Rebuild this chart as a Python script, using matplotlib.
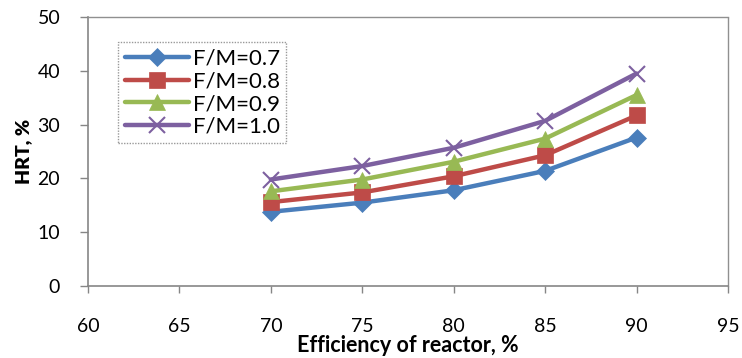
import numpy as np
import matplotlib
matplotlib.use('Agg')
import matplotlib.pyplot as plt

efficiency = [70, 75, 80, 85, 90]
hrt_07 = [13.8, 15.5, 17.8, 21.4, 27.6]
hrt_08 = [15.6, 17.4, 20.4, 24.3, 31.7]
hrt_09 = [17.6, 19.8, 23.1, 27.4, 35.5]
hrt_10 = [19.8, 22.3, 25.7, 30.7, 39.5]
labels = ['F/M=0.7', 'F/M=0.8', 'F/M=0.9', 'F/M=1.0']

plt.rcParams['font.family'] = ['Lato', 'DejaVu Sans']

fig = plt.figure(figsize=(7.42, 3.58), dpi=100)
ax = fig.add_axes([0.1186, 0.201, 0.8625, 0.7515])

series = [hrt_07, hrt_08, hrt_09, hrt_10]
colors = ['#4A7EBB', '#BE4B48', '#98B954', '#7D60A0']
markers = ['D', 's', '^', 'x']
msizes = [9, 11, 11, 12]
for vals, lab, col, mk, ms in zip(series, labels, colors, markers, msizes):
    ax.plot(efficiency, vals, color=col, lw=3.2, marker=mk, ms=ms,
            mew=1.5 if mk == 'x' else 0.5, mec=col, label=lab,
            solid_capstyle='round')

ax.set_xlim(60, 95)
ax.set_ylim(0, 50)
ax.set_xticks(np.arange(60, 96, 5))
ax.set_yticks(np.arange(0, 51, 10))
ax.tick_params(labelsize=14, color='#868686', width=1)
ax.tick_params(axis='x', length=5, pad=18)
ax.tick_params(axis='y', length=6, pad=14)
for s in ['left', 'bottom']:
    ax.spines[s].set_color('#868686')
    ax.spines[s].set_linewidth(1.2)
for s in ['top', 'right']:
    ax.spines[s].set_color('#909090')
    ax.spines[s].set_linestyle((0, (1, 1)))
    ax.spines[s].set_linewidth(1)

ax.set_xlabel('Efficiency of reactor, %', fontsize=15.5, fontweight='bold', labelpad=0)
ax.set_ylabel('HRT, %', fontsize=14, fontweight='heavy', labelpad=4)

leg = ax.legend(loc='upper left', bbox_to_anchor=(0.047, 0.907), fontsize=16,
                frameon=True, fancybox=False, borderpad=0.3, labelspacing=0.12,
                handlelength=2.9, handletextpad=0.15, borderaxespad=0)
leg.get_frame().set_edgecolor('#808080')
leg.get_frame().set_linestyle((0, (1, 1)))
leg.get_frame().set_linewidth(1)

fig.savefig('out.png', dpi=100)
